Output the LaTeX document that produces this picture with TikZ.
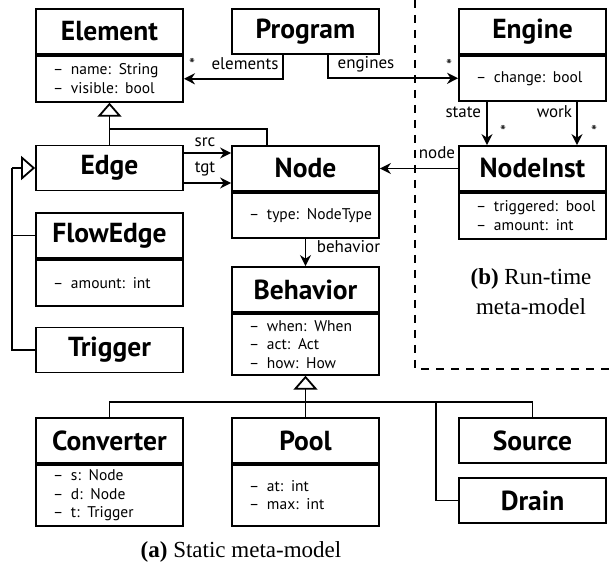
\documentclass[tikz,border=0pt]{standalone}
\usepackage{fontspec}
\setmainfont{Liberation Serif}
\setsansfont{PT Sans}
\usetikzlibrary{arrows.meta,calc}

% one attribute line of a class: a dash, then the attribute (never broken)
\newcommand{\fld}[1]{\mbox{\makebox[18pt][l]{\textendash}#1}}

\tikzset{
  classtitle/.style={draw, rectangle, minimum width=147pt, minimum height=45pt,
    inner sep=0pt, font=\sffamily\bfseries\fontsize{27.5}{29}\selectfont},
  classfields/.style={draw, rectangle, anchor=north, inner xsep=17pt, inner ysep=0pt,
    text width=113pt, align=left, font=\sffamily\fontsize{15.5}{18.5}\selectfont},
  assoc/.style={-{Stealth[length=11pt,width=11pt]}},
  gen/.style={-{Triangle[open,length=14pt,width=24pt]}},
  lbl/.style={inner sep=0pt, font=\sffamily\fontsize{17}{17}\selectfont},
  mult/.style={inner sep=0pt, font=\sffamily\fontsize{17}{17}\selectfont},
  boundary/.style={dash pattern=on 8pt off 7pt},
  caption/.style={inner sep=0pt, align=center, font=\rmfamily\fontsize{23}{30}\selectfont}
}

\begin{document}
\begin{tikzpicture}[x=1pt, y=-1pt, line width=1.8pt, line join=miter]
\useasboundingbox (0,0) rectangle (611,569);

% ---------- static meta-model ----------
\node[classtitle] (element) at (109.5,31.5) {Element};
\node[classfields, minimum height=46pt] (element-f) at (element.south)
  {\fld{name: String}\\\fld{visible: bool}};

\node[classtitle] (program) at (305.5,31.5) {Program};

\node[classtitle] (edge) at (109.5,168) {Edge};

\node[classtitle] (node) at (305.5,168.5) {Node};
\node[classfields, minimum height=45pt] (node-f) at (node.south)
  {\fld{type: NodeType}};

\node[classtitle] (flowedge) at (109.5,235.5) {FlowEdge};
\node[classfields, minimum height=46pt] (flowedge-f) at (flowedge.south)
  {\fld{amount: int}};

\node[classtitle] (trigger) at (109.5,350) {Trigger};

\node[classtitle] (behavior) at (305.5,289.5) {Behavior};
\node[classfields, minimum height=61pt] (behavior-f) at (behavior.south)
  {\fld{when: When}\\\fld{act: Act}\\\fld{how: How}};

\node[classtitle] (converter) at (109.5,440.5) {Converter};
\node[classfields, minimum height=61pt] (converter-f) at (converter.south)
  {\fld{s: Node}\\\fld{d: Node}\\\fld{t: Trigger}};

\node[classtitle] (pool) at (305.5,440.5) {Pool};
\node[classfields, minimum height=61pt] (pool-f) at (pool.south)
  {\fld{at: int}\\\fld{max: int}};

\node[classtitle] (source) at (532.5,440.5) {Source};
\node[classtitle] (drain) at (532.5,500.5) {Drain};

% ---------- run-time meta-model ----------
\node[classtitle] (engine) at (532.5,31.5) {Engine};
\node[classfields, minimum height=45pt] (engine-f) at (engine.south)
  {\fld{change: bool}};

\node[classtitle] (nodeinst) at (532.5,168.5) {NodeInst};
\node[classfields, minimum height=46pt] (nodeinst-f) at (nodeinst.south)
  {\fld{triggered: bool}\\\fld{amount: int}};

% boundary between the two meta-models
\draw[boundary] (415,0) -- (415,369) -- (611,369);

% ---------- associations ----------
\draw[assoc] ([xshift=-22.5pt]program.south) |- (element-f.east);
\node[lbl] (l-elements) at (245,64) {elements};
\node[mult] (m-elements) at (192,64) {*};

\draw[assoc] ([xshift=22.5pt]program.south) |- (engine-f.west);
\node[lbl] (l-engines) at (366,64) {engines};
\node[mult] (m-engines) at (449,65) {*};

\draw[assoc] ([xshift=-45.5pt]engine-f.south) -- ([xshift=-45.5pt]nodeinst.north);
\node[lbl, anchor=east] (l-state) at (482,112) {state};
\node[mult] (m-state) at (503,131) {*};

\draw[assoc] ([xshift=44.5pt]engine-f.south) -- ([xshift=44.5pt]nodeinst.north);
\node[lbl, anchor=east] (l-work) at (573,112) {work};
\node[mult] (m-work) at (594,131) {*};

\draw[assoc] (nodeinst.west) -- (node.east);
\node[lbl] (l-node) at (437,153) {node};

\draw[assoc] ([yshift=15pt]edge.east) -- ([yshift=15pt]edge.east -| node.west);
\node[lbl] (l-src) at (205,142) {src};
\draw[assoc] ([yshift=-15pt]edge.east) -- ([yshift=-15pt]edge.east -| node.west);
\node[lbl] (l-tgt) at (205,169) {tgt};

\draw[assoc] (node-f.south) -- (behavior.north);
\node[lbl, anchor=west] (l-behavior) at (316,247) {behavior};

% ---------- generalisations ----------
\draw[gen] (edge.north) -- (element-f.south);
\coordinate (elbus) at (109.5,129);
\draw (elbus) -| ([xshift=-38.5pt]node.north);

\coordinate (edbus) at (12,168);
\draw[gen] (edbus) -- (edge.west);
\draw (edbus) |- (trigger.west);
\draw (edbus |- flowedge.west) -- (flowedge.west);

\coordinate (bhbus) at (305.5,402);
\draw[gen] (pool.north) -- (behavior-f.south);
\draw (converter.north) |- (bhbus) -| (source.north);
\coordinate (drbus) at (436,402);
\draw (drbus) |- (drain.west);

% ---------- captions ----------
\node[caption] (cap-a) at (241,552) {\textbf{(a)} Static meta-model};
\node[caption] (cap-b) at (531,292) {\textbf{(b)} Run-time\\meta-model};
\end{tikzpicture}
\end{document}
